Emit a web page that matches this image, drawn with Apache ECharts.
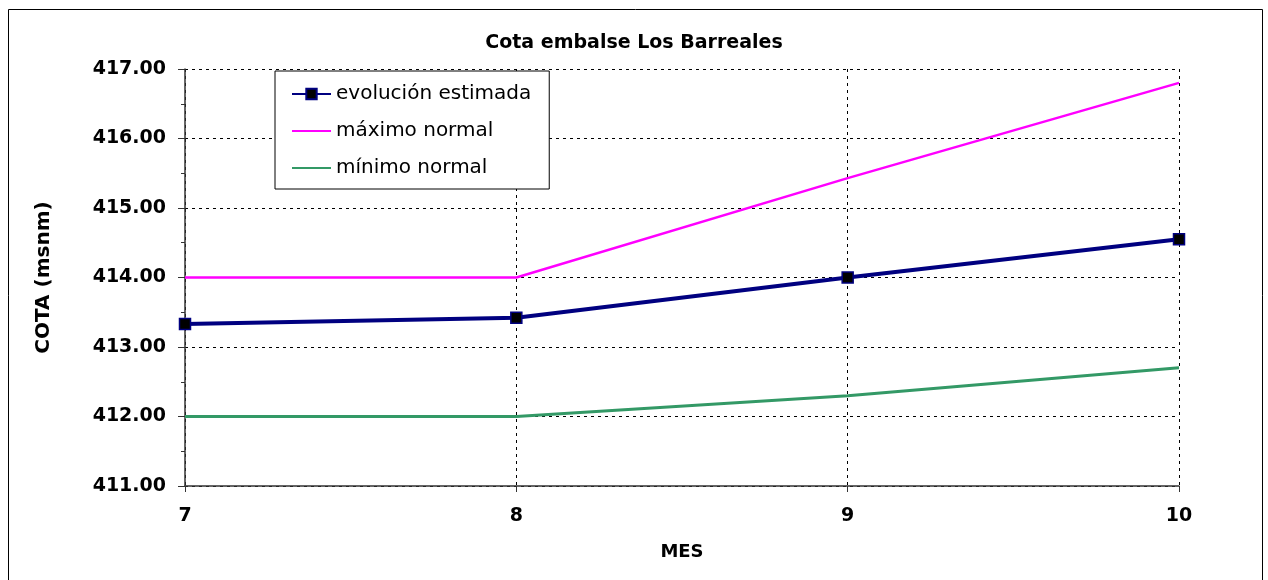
<!DOCTYPE html>
<html>
<head>
<meta charset="utf-8">
<script src="https://cdn.jsdelivr.net/npm/echarts@6/dist/echarts.min.js"></script>
<style>
  html, body { margin: 0; padding: 0; background: #fff; }
  #chart { width: 1268px; height: 580px; }
</style>
</head>
<body>
<div id="chart"></div>
<script>
// Months (x) and reservoir level (msnm)
const meses = [7, 8, 9, 10];
const evolucionEstimada = [413.33, 413.42, 414.00, 414.55];
const maximoNormal = [414.00, 414.00, 415.43, 416.80];
const minimoNormal = [412.00, 412.00, 412.30, 412.70];

const FONT = '"DejaVu Sans", Arial, sans-serif';

const pairs = (ys) => meses.map((m, i) => [m, ys[i]]);

const chart = echarts.init(document.getElementById('chart'), null, { renderer: 'canvas' });

chart.setOption({
  backgroundColor: '#ffffff',
  animation: false,
  title: {
    text: 'Cota embalse Los Barreales',
    left: 'center',
    top: 29,
    textStyle: { fontFamily: FONT, fontWeight: 'bold', fontSize: 19, color: '#000' }
  },
  graphic: [{
    type: 'rect',
    shape: { x: 8.5, y: 9.5, width: 1254, height: 600 },
    style: { fill: 'none', stroke: '#000', lineWidth: 1 },
    z: 0
  }],
  legend: {
    orient: 'vertical',
    left: 275,
    top: 71,
    padding: [12, 18, 10, 16],
    itemGap: 15,
    itemWidth: 39,
    itemHeight: 13,
    backgroundColor: '#fff',
    borderColor: '#000',
    borderWidth: 1,
    textStyle: { fontFamily: FONT, fontSize: 20, color: '#000', lineHeight: 22 },
    data: [
      { name: 'evolución estimada' },
      { name: 'máximo normal', itemStyle: { opacity: 0 } },
      { name: 'mínimo normal', itemStyle: { opacity: 0 } }
    ]
  },
  grid: { left: 185, right: 89, top: 69, bottom: 94 },
  xAxis: {
    type: 'value',
    min: 7,
    max: 10,
    interval: 1,
    name: 'MES',
    nameLocation: 'middle',
    nameGap: 57,
    nameTextStyle: { fontFamily: FONT, fontWeight: 'bold', fontSize: 18, color: '#000' },
    axisLine: { show: true, onZero: false, lineStyle: { color: '#333', width: 1.5 } },
    axisTick: { show: true, inside: false, length: 6, lineStyle: { color: '#333' } },
    axisLabel: { margin: 21, fontFamily: FONT, fontWeight: 'bold', fontSize: 19, color: '#000' },
    splitLine: { show: true, lineStyle: { color: '#000', type: [3, 4], width: 1 } }
  },
  yAxis: {
    type: 'value',
    min: 411,
    max: 417,
    interval: 1,
    name: 'COTA (msnm)',
    nameLocation: 'middle',
    nameGap: 131,
    nameRotate: 90,
    nameTextStyle: { fontFamily: FONT, fontWeight: 'bold', fontSize: 20, color: '#000' },
    axisLine: { show: true, lineStyle: { color: '#333', width: 1.5 } },
    axisTick: { show: true, length: 7, lineStyle: { color: '#333' } },
    minorTick: { show: true, splitNumber: 2, length: 4, lineStyle: { color: '#333' } },
    axisLabel: {
      margin: 19,
      fontFamily: FONT, fontWeight: 'bold', fontSize: 19, color: '#000',
      formatter: (v) => v.toFixed(2)
    },
    splitLine: { show: true, lineStyle: { color: '#000', type: [3, 4], width: 1 } }
  },
  series: [
    {
      name: 'evolución estimada',
      type: 'line',
      data: pairs(evolucionEstimada),
      symbol: 'rect',
      symbolSize: 11,
      lineStyle: { color: '#000080', width: 4 },
      itemStyle: { color: '#000', borderColor: '#000080', borderWidth: 1.5 },
      z: 5
    },
    {
      name: 'máximo normal',
      type: 'line',
      data: pairs(maximoNormal),
      symbol: 'none',
      lineStyle: { color: '#ff00ff', width: 2.5 },
      itemStyle: { color: '#ff00ff' },
      z: 4
    },
    {
      name: 'mínimo normal',
      type: 'line',
      data: pairs(minimoNormal),
      symbol: 'none',
      lineStyle: { color: '#339966', width: 3 },
      itemStyle: { color: '#339966' },
      z: 4
    }
  ]
});
</script>
</body>
</html>
